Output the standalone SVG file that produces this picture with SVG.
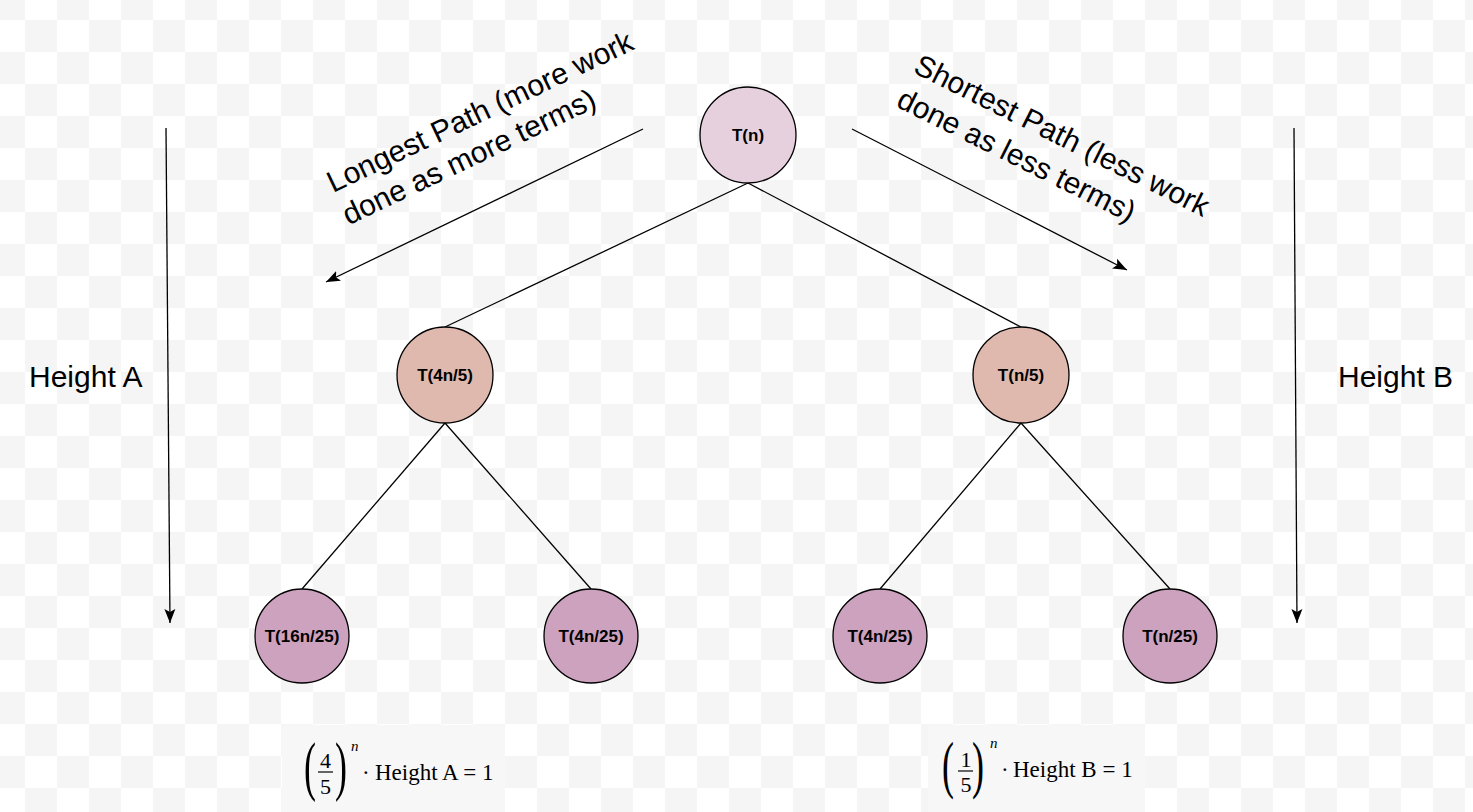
<svg xmlns="http://www.w3.org/2000/svg" width="1473" height="812" viewBox="0 0 1473 812">
<style>
.node circle{stroke:#000;stroke-width:1.3}
.node text{font-family:"Liberation Sans",Arial,sans-serif;font-weight:bold;font-size:17px;text-anchor:middle;fill:#000}
.conn line{stroke:#000;stroke-width:1.3;fill:none}
.lbl{font-family:"Liberation Sans",Arial,sans-serif;font-size:30px;fill:#000}
.math{font-family:"Liberation Serif","Times New Roman",serif;fill:#000}
</style>
<defs>
<pattern id="chk" patternUnits="userSpaceOnUse" x="25" y="20" width="64" height="64">
<rect width="64" height="64" fill="#ffffff"/>
<rect width="32" height="32" fill="#f5f5f5"/>
<rect x="32" y="32" width="32" height="32" fill="#f5f5f5"/>
</pattern>
<marker id="arr" markerUnits="userSpaceOnUse" markerWidth="16" markerHeight="12" refX="14" refY="6" orient="auto">
<path d="M0,0.5 L14,6 L0,11.5 L3,6 Z" fill="#000"/>
</marker>
</defs>
<rect width="1473" height="812" fill="url(#chk)"/>
<rect x="282" y="725" width="223" height="87" fill="#f7f7f7"/>
<rect x="928" y="725" width="217" height="87" fill="#f7f7f7"/>

<g id="connectors" class="conn">
<line x1="748" y1="183" x2="445" y2="327"/>
<line x1="748" y1="183" x2="1021" y2="327"/>
<line x1="445" y1="423" x2="302" y2="589"/>
<line x1="445" y1="423" x2="591" y2="589"/>
<line x1="1021" y1="423" x2="880" y2="589"/>
<line x1="1021" y1="423" x2="1170" y2="589"/>
<line x1="643" y1="129" x2="326" y2="282" marker-end="url(#arr)"/>
<line x1="852" y1="129" x2="1127" y2="270" marker-end="url(#arr)"/>
<line x1="166" y1="128" x2="170" y2="623" marker-end="url(#arr)"/>
<line x1="1294" y1="128" x2="1297" y2="623" marker-end="url(#arr)"/>
</g>

<g id="node-tn" class="node"><circle cx="748" cy="135" r="48" fill="#e6d0de"/><text x="748" y="141">T(n)</text></g>
<g id="node-t4n5" class="node"><circle cx="445" cy="375" r="48" fill="#dfb8ae"/><text x="445" y="381">T(4n/5)</text></g>
<g id="node-tn5" class="node"><circle cx="1021" cy="375" r="48" fill="#dfb8ae"/><text x="1021" y="381">T(n/5)</text></g>
<g id="node-t16n25" class="node"><circle cx="302" cy="636" r="47" fill="#cda2be"/><text x="302" y="642">T(16n/25)</text></g>
<g id="node-t4n25a" class="node"><circle cx="591" cy="636" r="47" fill="#cda2be"/><text x="591" y="642">T(4n/25)</text></g>
<g id="node-t4n25b" class="node"><circle cx="880" cy="636" r="47" fill="#cda2be"/><text x="880" y="642">T(4n/25)</text></g>
<g id="node-tn25" class="node"><circle cx="1170" cy="636" r="47" fill="#cda2be"/><text x="1170" y="642">T(n/25)</text></g>

<g id="label-longest">
<text class="lbl" transform="translate(333,193) rotate(-25.5)"><tspan x="0" y="0">Longest Path (more work</tspan><tspan x="0" y="36">done as more terms)</tspan></text>
</g>
<g id="label-shortest">
<text class="lbl" transform="translate(912,72) rotate(26.5)"><tspan x="0" y="0">Shortest Path (less work</tspan><tspan x="0" y="38">done as less terms)</tspan></text>
</g>
<g id="label-heightA"><text class="lbl" x="29" y="387">Height A</text></g>
<g id="label-heightB"><text class="lbl" x="1338" y="387">Height B</text></g>

<g id="formula-A" class="math">
<text font-size="36" transform="translate(304,788) scale(1,1.8)">(</text>
<text font-size="22" x="325.5" y="768" text-anchor="middle">4</text>
<line x1="318" y1="772" x2="333" y2="772" stroke="#000" stroke-width="1.2"/>
<text font-size="22" x="325.5" y="794" text-anchor="middle">5</text>
<text font-size="36" transform="translate(335,788) scale(1,1.8)">)</text>
<text font-size="15" font-style="italic" x="351" y="751">n</text>
<text font-size="23" x="362" y="780">·</text>
<text font-size="23" x="375" y="780">Height A = 1</text>
</g>
<g id="formula-B" class="math">
<text font-size="36" transform="translate(942,786) scale(1,1.75)">(</text>
<text font-size="22" x="966" y="767" text-anchor="middle">1</text>
<line x1="958" y1="771" x2="973" y2="771" stroke="#000" stroke-width="1.2"/>
<text font-size="22" x="966" y="792" text-anchor="middle">5</text>
<text font-size="36" transform="translate(972,786) scale(1,1.75)">)</text>
<text font-size="15" font-style="italic" x="990" y="748">n</text>
<text font-size="23" x="1001" y="777">·</text>
<text font-size="23" x="1013" y="777">Height B = 1</text>
</g>
</svg>
